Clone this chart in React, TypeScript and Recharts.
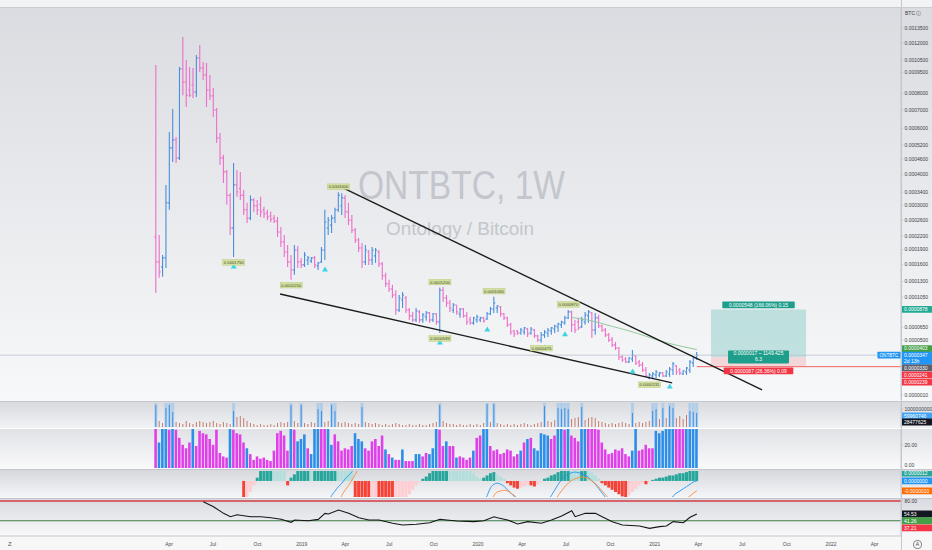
import React from "react";
import {
  ComposedChart,
  Bar,
  Line,
  XAxis,
  YAxis,
  ReferenceLine,
  ReferenceArea,
  ReferenceDot,
  Cell,
} from "recharts";

const FONT = "'Liberation Sans', Arial, sans-serif";
const UNIT = 1e-7; // all price arrays are in units of 0.0000001 BTC
const LOG_SHIFT = 0.0001; // price-axis transform: log10(price + shift)
const FIRST_WEEK = "2018-03-05";

// ---------------- weekly OHLC (ONTBTC, 1W) ----------------
const opens = [
  2180, 1652, 1557, 1730, 3073, 5070, 5430, 4644, 9770, 8800,
  8240, 8590, 8112, 10664, 9850, 9315, 8240, 7856, 6990, 5526,
  4644, 4098, 3300, 2390, 3640, 3522, 3300, 2870, 2646, 3160,
  2986, 3015, 2870, 2786, 2702, 2646, 2565, 2294, 2066, 1850,
  1652, 1500, 1890, 1652, 1595, 1690, 1671, 1730, 1576, 1652,
  1890, 2390, 2465, 2646, 2870, 2986, 3222, 2814, 2590, 2340,
  2110, 1934, 1652, 1850, 1690, 1770, 1850, 1614, 1398, 1262,
  1177, 1085, 870, 1010, 1040, 870, 792, 740, 844, 740,
  779, 831, 740, 818, 715, 1160, 1040, 968, 870, 940,
  818, 884, 792, 740, 703, 740, 740, 766, 753, 818,
  884, 898, 912, 818, 766, 679, 606, 606, 583, 594,
  629, 583, 617, 549, 504, 561, 583, 606, 629, 654,
  679, 703, 766, 845, 679, 715, 654, 715, 792, 831,
  617, 766, 666, 617, 561, 504, 451, 419, 329, 310,
  282, 310, 339, 282, 255, 209, 141, 158, 167, 167,
  184, 158, 175, 209, 245, 209, 175, 192, 209, 273,
  320,
];
const highs = [
  10090, 2225, 1790, 3640, 5814, 7051, 5574, 9930, 12583, 10490,
  9930, 9850, 10925, 11820, 10330, 10250, 9315, 8380, 7112, 5766,
  4770, 4170, 3368, 4443, 4170, 4098, 3470, 3073, 3300, 3218,
  3160, 3253, 2957, 2870, 2814, 2730, 2674, 2415, 2225, 2000,
  1790, 2000, 1978, 1730, 1850, 1770, 1750, 1770, 1652, 1956,
  2870, 2674, 2730, 2928, 3400, 3368, 3300, 3073, 2730, 2390,
  2156, 2044, 2000, 1890, 1956, 1934, 1890, 1652, 1449, 1330,
  1245, 1160, 1085, 1130, 1070, 898, 844, 898, 870, 831,
  857, 844, 831, 831, 1200, 1211, 1085, 1010, 968, 940,
  898, 898, 844, 779, 779, 805, 779, 779, 844, 912,
  1060, 940, 926, 831, 779, 703, 617, 617, 642, 654,
  642, 654, 629, 561, 594, 617, 642, 654, 679, 703,
  728, 792, 870, 860, 740, 766, 779, 844, 870, 844,
  831, 805, 679, 642, 583, 538, 483, 430, 349, 329,
  329, 398, 349, 300, 282, 236, 184, 192, 209, 192,
  192, 209, 236, 282, 255, 227, 209, 236, 300, 329,
  378,
];
const lows = [
  1115, 1364, 1381, 1538, 2870, 4482, 4443, 4560, 7890, 7173,
  7792, 7728, 7792, 9540, 8940, 7173, 7600, 6598, 5295, 4365,
  3702, 3015, 2225, 1750, 3253, 3160, 2730, 2515, 2590, 2814,
  2730, 2674, 2646, 2590, 2540, 2515, 2179, 1956, 1750, 1557,
  1330, 1415, 1538, 1538, 1557, 1595, 1633, 1538, 1500, 1633,
  1690, 2225, 2271, 2515, 2814, 2730, 2646, 2465, 2271, 2044,
  1850, 1538, 1595, 1595, 1595, 1633, 1557, 1330, 1211, 1130,
  1040, 805, 844, 898, 831, 740, 715, 715, 703, 703,
  728, 703, 715, 679, 583, 982, 912, 844, 831, 805,
  766, 766, 679, 679, 679, 703, 715, 703, 740, 805,
  831, 831, 779, 740, 654, 561, 538, 561, 561, 561,
  538, 561, 527, 483, 475, 527, 538, 561, 583, 594,
  642, 679, 753, 594, 583, 617, 642, 679, 703, 527,
  561, 642, 594, 538, 483, 430, 398, 300, 282, 273,
  273, 282, 255, 236, 192, 150, 131, 141, 141, 150,
  150, 150, 150, 167, 167, 167, 167, 167, 184, 236,
  300,
];
const closes = [
  1652, 1466, 1730, 3073, 5070, 5430, 4644, 9770, 8800, 7890,
  7890, 8112, 10664, 9850, 9315, 8240, 7856, 6990, 5526, 4644,
  4098, 3300, 2390, 3640, 3408, 3300, 2870, 2646, 3160, 2986,
  2870, 2814, 2758, 2674, 2618, 2565, 2294, 2066, 1850, 1652,
  1500, 1890, 1652, 1595, 1790, 1730, 1730, 1595, 1633, 1890,
  2540, 2590, 2646, 2870, 3300, 3222, 2814, 2590, 2340, 2110,
  1934, 1652, 1890, 1690, 1890, 1890, 1614, 1398, 1262, 1177,
  1085, 870, 1040, 1085, 870, 792, 740, 857, 740, 805,
  831, 740, 818, 715, 1160, 1040, 968, 898, 940, 844,
  884, 792, 715, 703, 766, 779, 766, 728, 818, 884,
  968, 926, 818, 766, 679, 594, 572, 583, 617, 642,
  572, 629, 549, 504, 561, 594, 617, 642, 666, 691,
  715, 766, 845, 679, 617, 642, 740, 805, 844, 617,
  766, 666, 617, 561, 504, 451, 419, 329, 300, 282,
  320, 349, 273, 255, 209, 158, 167, 175, 192, 184,
  158, 192, 218, 264, 192, 184, 201, 227, 282, 320,
  347,
];

// price axis ticks and axis badges (1e-7 BTC)
const priceTicks = [
  13500, 12000, 10500, 9500, 8000, 7000, 6000, 5200, 4600, 4000, 3400,
  3000, 2600, 2200, 1900, 1600, 1300, 1050, 650, 500, 10,
];
const axisBadgeValues = [878, 403, 347, 330, 241, 239];
const lastPrice = 347;
const countdownText = "2d 13h";
const symbolTag = "ONTBTC";

// moving average (bar index, price)
const maPoints = [
  [123, 770], [127, 745], [131, 705], [135, 660], [140, 606],
  [145, 545], [150, 485], [155, 440], [160, 403],
];
// trend lines: [bar index, price]
const upperTrend = [[54.7, 3572], [179.3, 46]];
const lowerTrend = [[36.7, 1100], [152.7, 101]];
// pivot labels: [bar, side, text]
const pivotLabels: [number, string, string][] = [
  [54, "high", "0.0003400"],
  [23, "low", "0.0001750"],
  [40, "low", "0.0001250"],
  [84, "high", "0.0001200"],
  [84, "low", "0.0000583"],
  [100, "high", "0.0001060"],
  [114, "low", "0.0000475"],
  [122, "high", "0.0000870"],
  [146, "low", "0.0000131"],
];
const signalBars = [23, 50, 84, 98, 115, 121, 141, 152];
// long position tool
const positionTool = { x1: 164.2, x2: 192.3, target: 878, entry: 330, stop: 241 };
const positionTexts = [
  "0.0000548 (166.06%) 0.15",
  "0.0000017 ~ 1149.425",
  "6.3",
  "0.0000087 (26.36%) 0.09",
];
const stopRay = { fromBar: 160, price: 239 };

// ---------------- lower panes ----------------
const volValues = [
  34, 22, 34, 34, 33, 34, 33, 26, 20, 17,
  22, 34, 19, 32, 30, 29, 25, 20, 33, 13,
  10, 9, 34, 33, 30, 29, 22, 17, 12, 7,
  10, 8, 9, 7, 6, 15, 30, 32, 28, 15,
  34, 33, 23, 25, 29, 17, 12, 34, 34, 34,
  34, 34, 20, 29, 23, 15, 17, 16, 19, 30,
  25, 23, 17, 15, 23, 25, 19, 28, 16, 12,
  9, 7, 7, 16, 6, 6, 6, 12, 12, 10,
  13, 12, 17, 34, 33, 19, 23, 19, 19, 9,
  10, 9, 7, 9, 15, 26, 28, 34, 34, 19,
  15, 16, 12, 13, 16, 15, 10, 12, 15, 22,
  25, 26, 17, 15, 30, 29, 28, 25, 28, 34,
  34, 33, 34, 28, 26, 23, 34, 34, 34, 34,
  34, 33, 22, 16, 12, 13, 16, 15, 17, 12,
  10, 15, 34, 15, 16, 20, 17, 17, 32, 30,
  32, 34, 34, 34, 34, 34, 34, 34, 34, 34,
  34,
];
const volColorCodes =
  "mbbbmbmmmm" + "mbmmmmmmmm" + "mmbmmmmbmm" + "mmmmmmmmmm" +
  "bmbbbmbbbm" + "mbbmmmmmmb" + "bbmmmmmmbm" + "bmmbmmmbbm" +
  "mbbbmmbmmb" + "mmmmbmmbbm" + "mmmmmmmmbm" + "bmbbbbbmmb" +
  "bmbmmmbbmm" + "mmmmmmmmmm" + "mbbmmmmmbb" + "bbbbmmmbbb" + "b";
const flowValues = [
  22, 6, 4, 19, 22, 15, 5, 4, 3, 6,
  4, 3, 5, 6, 5, 4, 5, 6, 4, 3,
  5, 4, 3, 16, 10, 11, 9, 6, 4, 3,
  2, 3, 2, 2, 3, 2, 4, 5, 4, 5,
  22, 6, 4, 22, 4, 3, 5, 4, 18, 16,
  5, 6, 22, 16, 5, 4, 5, 4, 3, 4,
  3, 20, 5, 4, 3, 4, 3, 2, 3, 2,
  3, 4, 3, 2, 2, 3, 2, 2, 3, 2,
  2, 3, 4, 5, 22, 6, 4, 3, 3, 2,
  3, 2, 2, 3, 2, 3, 2, 4, 23, 5,
  23, 4, 3, 2, 3, 2, 3, 2, 3, 4,
  3, 2, 3, 4, 5, 21, 6, 5, 7, 19,
  18, 19, 18, 8, 9, 10, 20, 7, 9, 10,
  9, 6, 5, 4, 3, 4, 3, 4, 5, 4,
  3, 14, 4, 5, 4, 5, 6, 16, 18, 8,
  19, 9, 21, 19, 9, 11, 8, 12, 16, 15,
  14,
];
const flowHighlight = 14;
const macdHist = [
  null, null, null, null, null, null, null, null, null, null,
  null, null, null, null, null, null, null, null, null, null,
  null, null, null, null, null, null, -20, -18, -10, -4,
  3, 12, 18, 22, 24, 22, 18, 14, 11, -4,
  3, 6, 10, 14, 18, 20, 19, 22, 25, 28,
  32, 35, 38, 40, 36, 30, 24, 16, 10, -16,
  -20, -24, -28, -30, -28, -25, -26, -30, -34, -38,
  -40, -36, -30, -24, -18, -12, -8, -4, -1, 2,
  4, 7, 10, 14, 18, 22, 24, 22, 20, 18,
  16, 14, 12, 10, 7, 4, 2, 3, 5, 7,
  8, 6, 4, 2, -2, -4, -6, -7, -6, -5,
  -3, -4, -5, -3, -1, 2, 3, 5, 6, 8,
  10, 12, 14, 12, 10, 9, 11, 12, 10, 8,
  5, 2, -2, -4, -6, -8, -10, -12, -14, -16,
  -13, -10, -7, -4, -2, -3, -1, 1, 2, 3,
  3, 4, 5, 5, 6, 7, 7, 8, 9, 10,
  12,
];
// MACD / signal line pieces that pass through the small pane: start bar + weekly values
const macdLineSegments = [
  { start: 51, values: [-20, -13, -9, -5, -2, 2, 5, 8.5, 14] },
  { start: 97, values: [-20, -13, -6, -3, -2, -3, -5, -8, -11, -14, -18] },
  { start: 116, values: [-18, -13, -8, -3, 1, 4, 6, 7.5, 8, 7.5, 6.5, 5, 3, 0, -3, -7, -11, -15] },
  { start: 152, values: [-18, -13.6, -11, -9, -7, -5, -3, -1, 0] },
];
const signalLineSegments = [
  { start: 54, values: [-20, -13, -8, -4, 1, 6, 12] },
  { start: 99, values: [-20, -13, -10, -9, -8.5, -9, -11, -13, -16] },
  { start: 118, values: [-18, -13, -9, -5, -2, 0.5, 2, 3, 3.5, 3, 2, 0, -2.5, -5.5, -9, -12.5, -16] },
  { start: 157, values: [-16, -13.5, -11, -9] },
];
const rsiPoints = [
  [14, 78.7], [17, 68.8], [20, 55.8], [22, 49.2], [24, 53.1], [28, 49.2],
  [31, 49], [34, 47.3], [37, 44.1], [40, 38.2], [41, 42.8], [45, 41.4],
  [48, 44], [50, 55.8], [51, 54.5], [54, 62.4], [57, 55.8], [60, 47.3],
  [63, 42.8], [66, 42.8], [70, 36.3], [73, 33], [77, 34.3], [81, 37.5],
  [84, 44.1], [86, 42.8], [89, 40.8], [94, 39.5], [97, 41.4], [100, 49.2],
  [101, 47.3], [104, 42.8], [107, 35], [110, 39.5], [114, 36.3], [117, 42.8],
  [120, 50.6], [123, 61], [124, 49.2], [127, 55.8], [130, 55.8], [132, 49.2],
  [135, 39.5], [138, 33], [143, 31], [146, 26.4], [149, 29.7], [151, 31],
  [153, 39.5], [156, 37.5], [158, 48], [160, 54.5],
];
const rsiLevels = [80, 41.26];
const rsiBadgeValues = [54.53, 41.26, 37.21];
const macdBadgeValues = [7.2, 0, -9];
const macdBadgeTexts = ["0.0000012", "0.0000000", "-0.0000010"];
const flowAxisTexts = ["1000000000", "59960746", "28477625"];
const flowAxisValues = [18, 11, 5];

const timeTicks: [string, string][] = [
  ["2018-04-01", "Apr"], ["2018-07-01", "Jul"], ["2018-10-01", "Oct"],
  ["2019-01-01", "2019"], ["2019-04-01", "Apr"], ["2019-07-01", "Jul"],
  ["2019-10-01", "Oct"], ["2020-01-01", "2020"], ["2020-04-01", "Apr"],
  ["2020-07-01", "Jul"], ["2020-10-01", "Oct"], ["2021-01-01", "2021"],
  ["2021-04-01", "Apr"], ["2021-07-01", "Jul"], ["2021-10-01", "Oct"],
  ["2022-01-01", "2022"], ["2022-04-01", "Apr"],
];

// ---------------- helpers ----------------
const X_DOMAIN: [number, number] = [-46.15, 220.4];
const P_DOMAIN: [number, number] = [-4.0121, -2.7755];
const PINK = "#ee6ec8";
const BLUE = "#4a8fdd";
const tf = (v: number) => Math.log10(v * UNIT + LOG_SHIFT);
const fmtP = (v: number) => (v * UNIT).toFixed(7);
const weekIndex = (d: string) =>
  (Date.parse(d) - Date.parse(FIRST_WEEK)) / (7 * 86400000);
const timeTickPos = timeTicks.map((t) => weekIndex(t[0]));

const maByBar = new Map(maPoints.map((p) => [p[0], p[1]]));
const rsiByBar = new Map(rsiPoints.map((p) => [p[0], p[1]]));
const segLookup = (segs: { start: number; values: number[] }[], i: number) => {
  for (const s of segs) {
    if (i >= s.start && i < s.start + s.values.length) return s.values[i - s.start];
  }
  return null;
};

const mainRows = opens.map((o, i) => ({
  i,
  range: [tf(lows[i]), tf(highs[i])],
  hiT: tf(highs[i]),
  oT: tf(o),
  cT: tf(closes[i]),
  up: closes[i] >= o,
  ma: maByBar.has(i) ? tf(maByBar.get(i) as number) : null,
}));

const subRows = opens.map((_, i) => ({
  i,
  vol: volValues[i],
  volUp: volColorCodes[i] === "b",
  flow: flowValues[i],
  shade: flowValues[i] >= flowHighlight ? 24 : null,
  hist: macdHist[i],
  macd: segLookup(macdLineSegments, i),
  signal: segLookup(signalLineSegments, i),
  rsi: rsiByBar.has(i) ? rsiByBar.get(i) : null,
}));

const histColor = (i: number) => {
  const v = macdHist[i] as number;
  const p = i > 0 ? (macdHist[i - 1] as number | null) : null;
  if (v >= 0) return p == null || v >= p ? "#26a69a" : "#b2dfdb";
  return p == null || v <= p ? "#f44336" : "#ffcdd2";
};

type Spec = {
  v: number;
  text: string;
  bg?: string;
  fg?: string;
  dy?: number;
  text2?: string;
  tag?: string;
};

const makeAxisTick = (specs: Spec[]) => (props: any) => {
  const { x, y, payload } = props;
  const s = specs.find((sp) => Math.abs(sp.v - payload.value) < 1e-7);
  if (!s) return null;
  const cy = y + (s.dy || 0);
  if (!s.bg) {
    return (
      <g>
        <line x1={x} x2={x + 2} y1={y} y2={y} stroke="#a3a7ae" strokeWidth={0.6} />
        <text x={x + 3.5} y={cy + 1.8} fontSize={5} fill="#3b3e44" fontFamily={FONT}>
          {s.text}
        </text>
      </g>
    );
  }
  const h = s.text2 ? 13 : 6.8;
  return (
    <g>
      {s.tag && (
        <g>
          <rect x={x - 23.5} y={y - 3.4} width={23} height={6.8} fill={s.bg} rx={0.6} />
          <text x={x - 12} y={y + 1.8} fontSize={4.6} fill="#fff" textAnchor="middle" fontFamily={FONT}>
            {s.tag}
          </text>
        </g>
      )}
      <rect x={x + 0.6} y={cy - 3.4} width={30.4} height={h} fill={s.bg} rx={0.6} />
      <text x={x + 3} y={cy + 1.8} fontSize={5} fill={s.fg || "#fff"} fontFamily={FONT}>
        {s.text}
      </text>
      {s.text2 && (
        <text x={x + 3} y={cy + 7.8} fontSize={5} fill={s.fg || "#fff"} fontFamily={FONT}>
          {s.text2}
        </text>
      )}
    </g>
  );
};

const MAIN_BADGE_STYLE = [
  { bg: "#22ab94", dy: 0 },
  { bg: "#43a047", dy: -1 },
  { bg: "#2196f3", dy: 0, text2: countdownText, tag: symbolTag },
  { bg: "#5d606b", dy: 11 },
  { bg: "#f23645", dy: 8.5 },
  { bg: "#f23645", dy: 15.5 },
];
const mainSpecs: Spec[] = [
  ...priceTicks.map((p) => ({ v: tf(p), text: fmtP(p) })),
  ...axisBadgeValues.map((b, k) => ({ v: tf(b), text: fmtP(b), ...MAIN_BADGE_STYLE[k] })),
];
const FLOW_STYLE = [{}, { bg: "#42a5f5" }, { bg: "#131722" }];
const flowSpecs: Spec[] = flowAxisValues.map((v, k) => ({ v, text: flowAxisTexts[k], ...FLOW_STYLE[k] }));
const VOL_STYLE = [{ dy: 0 }, { dy: -2.5 }];
const volSpecs: Spec[] = [20, 0].map((v, k) => ({ v, text: v.toFixed(2), ...VOL_STYLE[k] }));
const MACD_STYLE = [{ bg: "#26a69a" }, { bg: "#2196f3" }, { bg: "#ff6d00" }];
const macdSpecs: Spec[] = macdBadgeValues.map((v, k) => ({ v, text: macdBadgeTexts[k], ...MACD_STYLE[k] }));
const RSI_STYLE = [{ bg: "#131722" }, { bg: "#43a047" }, { bg: "#f23645", dy: 5 }];
const rsiSpecs: Spec[] = [
  { v: rsiLevels[0], text: rsiLevels[0].toFixed(2) },
  ...rsiBadgeValues.map((v, k) => ({ v, text: v.toFixed(2), ...RSI_STYLE[k] })),
];

const Candle = (props: any) => {
  const { x, y, width, height, payload } = props;
  if (x == null || !payload) return null;
  const cx = x + width / 2;
  const top = Math.min(y, y + height);
  const bot = Math.max(y, y + height);
  const span = payload.hiT - payload.range[0];
  const py = (t: number) => (span > 0 ? top + ((payload.hiT - t) / span) * (bot - top) : top);
  const col = payload.up ? BLUE : PINK;
  const yo = py(payload.oT);
  const yc = py(payload.cT);
  return (
    <g stroke={col} strokeWidth={1.1}>
      <line x1={cx} x2={cx} y1={top} y2={Math.max(bot, top + 1)} />
      <line x1={cx - 1.5} x2={cx} y1={yo} y2={yo} />
      <line x1={cx} x2={cx + 1.5} y1={yc} y2={yc} />
    </g>
  );
};

const PivotTag = ({ cx, cy, side, text }: any) => {
  const yc = side === "high" ? cy - 5.5 : cy + 5.5;
  return (
    <g>
      <rect x={cx - 11} y={yc - 2.8} width={22} height={5.6} fill="#d3e29e" stroke="#b4c474" strokeWidth={0.4} />
      <text x={cx} y={yc + 1.5} fontSize={4.2} textAnchor="middle" fill="#4a4d40" fontFamily={FONT}>
        {text}
      </text>
    </g>
  );
};

const Tri = ({ cx, cy }: any) => (
  <polygon
    points={`${cx},${cy + 6.5} ${cx - 3},${cy + 11.5} ${cx + 3},${cy + 11.5}`}
    fill="#3fd4e4"
  />
);

const PosBadge = ({ cx, cy, dy, text, text2, bg }: any) => {
  const w = text.length * 2.85 + 4;
  const h = text2 ? 13 : 6.8;
  const top = cy + dy - (text2 ? 6.5 : 3.4);
  return (
    <g>
      <rect x={cx - w / 2} y={top} width={w} height={h} fill={bg} rx={0.8} />
      <text x={cx} y={top + 5} fontSize={5} textAnchor="middle" fill="#fff" fontFamily={FONT}>
        {text}
      </text>
      {text2 && (
        <text x={cx} y={top + 11} fontSize={5} textAnchor="middle" fill="#fff" fontFamily={FONT}>
          {text2}
        </text>
      )}
    </g>
  );
};

const TimeTick = (props: any) => {
  const { x, y, payload } = props;
  const k = timeTickPos.findIndex((p) => Math.abs(p - payload.value) < 1e-6);
  if (k < 0) return null;
  return (
    <text x={x} y={y + 9.5} fontSize={5} textAnchor="middle" fill="#4a4d52" fontFamily={FONT}>
      {timeTicks[k][1]}
    </text>
  );
};

const MARGIN = { top: 0, right: 0, bottom: 0, left: 0 };
const axisLine = { stroke: "#c4c7cd", strokeWidth: 1 };

const abs = (top: number, h: number, extra: any = {}) => ({
  position: "absolute" as const,
  left: 0,
  top,
  width: 932,
  height: h,
  ...extra,
});

export default function App() {
  const posMid = (positionTool.x1 + positionTool.x2) / 2;
  return (
    <div
      style={{
        position: "absolute",
        left: 0,
        top: 0,
        width: 932,
        height: 550,
        overflow: "hidden",
        background: "#f4f5f7",
        fontFamily: FONT,
      }}
    >
      {/* pane backgrounds */}
      <div style={abs(0, 8, { background: "#f2f3f5" })} />
      <div style={abs(8, 393, { background: "linear-gradient(180deg,#dadce1 0%,#e8eaed 50%,#f7f8f9 100%)" })} />
      <div style={abs(402, 26, { background: "linear-gradient(180deg,#d8dade 0%,#f1f2f4 100%)" })} />
      <div style={abs(428, 41, { background: "linear-gradient(180deg,#dfe1e5 0%,#fafafb 100%)" })} />
      <div style={abs(470, 28, { background: "linear-gradient(180deg,#d6d8dd 0%,#f5f6f8 100%)" })} />
      <div style={abs(499, 37, { background: "linear-gradient(180deg,#d9dbe0 0%,#f8f8fa 100%)" })} />
      <div style={abs(536, 14, { background: "#f7f7f8" })} />

      {/* watermark */}
      <svg width={932} height={400} style={{ position: "absolute", left: 0, top: 0 }}>
        <text x={358} y={199} fontSize={41} fill="#c3c6cc" textLength={207} lengthAdjust="spacingAndGlyphs" fontFamily={FONT}>
          ONTBTC, 1W
        </text>
        <text x={386} y={235} fontSize={18} fill="#c3c6cc" textLength={148} lengthAdjust="spacingAndGlyphs" fontFamily={FONT}>
          Ontology / Bitcoin
        </text>
      </svg>

      {/* main price pane */}
      <div style={{ position: "absolute", left: 0, top: 8 }}>
        <ComposedChart width={932} height={392} data={mainRows} margin={MARGIN}>
          <XAxis dataKey="i" type="number" domain={X_DOMAIN} allowDataOverflow hide />
          <YAxis
            orientation="right"
            width={31}
            type="number"
            domain={P_DOMAIN}
            allowDataOverflow
            ticks={mainSpecs.map((s) => s.v)}
            interval={0}
            tick={makeAxisTick(mainSpecs)}
            tickLine={false}
            tickSize={0}
            tickMargin={0}
            axisLine={axisLine}
          />
          <ReferenceArea
            x1={positionTool.x1}
            x2={positionTool.x2}
            y1={tf(positionTool.entry)}
            y2={tf(positionTool.target)}
            fill="#26a69a"
            fillOpacity={0.25}
            stroke="none"
          />
          <ReferenceArea
            x1={positionTool.x1}
            x2={positionTool.x2}
            y1={tf(positionTool.stop)}
            y2={tf(positionTool.entry)}
            fill="#f23645"
            fillOpacity={0.16}
            stroke="none"
          />
          <ReferenceLine y={tf(lastPrice)} stroke="#b6c2d0" strokeWidth={0.8} />
          <ReferenceLine
            segment={[
              { x: stopRay.fromBar, y: tf(stopRay.price) },
              { x: X_DOMAIN[1], y: tf(stopRay.price) },
            ]}
            stroke="#f4645f"
            strokeWidth={1}
          />
          <Bar dataKey="range" barSize={3} isAnimationActive={false} shape={Candle} />
          <Line
            dataKey="ma"
            type="monotone"
            stroke="#93c9a0"
            strokeWidth={1}
            dot={false}
            connectNulls
            isAnimationActive={false}
          />
          <ReferenceLine
            segment={upperTrend.map((p) => ({ x: p[0], y: tf(p[1]) }))}
            stroke="#1c1c1c"
            strokeWidth={1.4}
          />
          <ReferenceLine
            segment={lowerTrend.map((p) => ({ x: p[0], y: tf(p[1]) }))}
            stroke="#1c1c1c"
            strokeWidth={1.4}
          />
          {signalBars.map((b) => (
            <ReferenceDot
              key={"t" + b}
              x={b}
              y={tf(lows[b])}
              r={0}
              ifOverflow="visible"
              shape={(p: any) => <Tri cx={p.cx} cy={p.cy} />}
            />
          ))}
          {pivotLabels.map(([b, side, text], k) => (
            <ReferenceDot
              key={"pl" + k}
              x={b}
              y={tf(side === "high" ? highs[b] : lows[b])}
              r={0}
              ifOverflow="visible"
              shape={(p: any) => <PivotTag cx={p.cx} cy={p.cy} side={side} text={text} />}
            />
          ))}
          <ReferenceDot
            x={posMid}
            y={tf(positionTool.target)}
            r={0}
            ifOverflow="visible"
            shape={(p: any) => <PosBadge cx={p.cx} cy={p.cy} dy={-4.5} text={positionTexts[0]} bg="#1f9e8c" />}
          />
          <ReferenceDot
            x={posMid}
            y={tf(positionTool.entry)}
            r={0}
            ifOverflow="visible"
            shape={(p: any) => (
              <PosBadge cx={p.cx} cy={p.cy} dy={0} text={positionTexts[1]} text2={positionTexts[2]} bg="#1f9e8c" />
            )}
          />
          <ReferenceDot
            x={posMid}
            y={tf(positionTool.stop)}
            r={0}
            ifOverflow="visible"
            shape={(p: any) => <PosBadge cx={p.cx} cy={p.cy} dy={4.5} text={positionTexts[3]} bg="#f23645" />}
          />
        </ComposedChart>
      </div>

      {/* flow pane */}
      <div style={{ position: "absolute", left: 0, top: 403 }}>
        <ComposedChart width={932} height={24} data={subRows} margin={MARGIN}>
          <XAxis xAxisId="a" dataKey="i" type="number" domain={X_DOMAIN} allowDataOverflow hide />
          <XAxis xAxisId="b" dataKey="i" type="number" domain={X_DOMAIN} allowDataOverflow hide />
          <YAxis
            orientation="right"
            width={31}
            type="number"
            domain={[0, 24]}
            allowDataOverflow
            ticks={flowSpecs.map((s) => s.v)}
            interval={0}
            tick={makeAxisTick(flowSpecs)}
            tickLine={false}
            tickSize={0}
            tickMargin={0}
            axisLine={axisLine}
          />
          <Bar xAxisId="b" dataKey="shade" barSize={3.4} fill="#8fc0ee" fillOpacity={0.55} isAnimationActive={false} />
          <Bar xAxisId="a" dataKey="flow" barSize={1} isAnimationActive={false}>
            {subRows.map((r) => (
              <Cell key={r.i} fill={r.flow >= flowHighlight ? "#3d8fe0" : "#c47a6c"} />
            ))}
          </Bar>
        </ComposedChart>
      </div>

      {/* volume-like pane */}
      <div style={{ position: "absolute", left: 0, top: 428 }}>
        <ComposedChart width={932} height={40} data={subRows} margin={MARGIN}>
          <XAxis dataKey="i" type="number" domain={X_DOMAIN} allowDataOverflow hide />
          <YAxis
            orientation="right"
            width={31}
            type="number"
            domain={[0, 34.5]}
            allowDataOverflow
            ticks={volSpecs.map((s) => s.v)}
            interval={0}
            tick={makeAxisTick(volSpecs)}
            tickLine={false}
            tickSize={0}
            tickMargin={0}
            axisLine={axisLine}
          />
          <Bar dataKey="vol" barSize={2.6} isAnimationActive={false}>
            {subRows.map((r) => (
              <Cell key={r.i} fill={r.volUp ? "#2b8ee8" : "#e040ea"} />
            ))}
          </Bar>
        </ComposedChart>
      </div>

      {/* MACD pane */}
      <div style={{ position: "absolute", left: 0, top: 471 }}>
        <ComposedChart width={932} height={26} data={subRows} margin={MARGIN}>
          <XAxis dataKey="i" type="number" domain={X_DOMAIN} allowDataOverflow hide />
          <YAxis
            orientation="right"
            width={31}
            type="number"
            domain={[-14.5, 9]}
            allowDataOverflow
            ticks={macdSpecs.map((s) => s.v)}
            interval={0}
            tick={makeAxisTick(macdSpecs)}
            tickLine={false}
            tickSize={0}
            tickMargin={0}
            axisLine={axisLine}
          />
          <Bar dataKey="hist" barSize={3} isAnimationActive={false}>
            {subRows.map((r) => (
              <Cell key={r.i} fill={r.hist == null ? "none" : histColor(r.i)} />
            ))}
          </Bar>
          <Line dataKey="macd" type="monotone" stroke="#2196f3" strokeWidth={0.9} dot={false} isAnimationActive={false} />
          <Line dataKey="signal" type="monotone" stroke="#ff8a3d" strokeWidth={0.9} dot={false} isAnimationActive={false} />
        </ComposedChart>
      </div>

      {/* RSI pane + time axis */}
      <div style={{ position: "absolute", left: 0, top: 499 }}>
        <ComposedChart width={932} height={51} data={subRows} margin={MARGIN}>
          <XAxis
            dataKey="i"
            type="number"
            domain={X_DOMAIN}
            allowDataOverflow
            ticks={timeTickPos}
            interval={0}
            tick={TimeTick}
            tickLine={false}
            tickSize={0}
            tickMargin={0}
            height={14}
            axisLine={axisLine}
          />
          <YAxis
            orientation="right"
            width={31}
            type="number"
            domain={[11.4, 83.9]}
            allowDataOverflow
            ticks={rsiSpecs.map((s) => s.v)}
            interval={0}
            tick={makeAxisTick(rsiSpecs)}
            tickLine={false}
            tickSize={0}
            tickMargin={0}
            axisLine={axisLine}
          />
          <ReferenceLine y={rsiLevels[0]} stroke="#d6656b" strokeWidth={2} />
          <ReferenceLine y={rsiLevels[1]} stroke="#3f7d45" strokeWidth={1.2} />
          <Line
            dataKey="rsi"
            stroke="#151515"
            strokeWidth={1.1}
            dot={false}
            connectNulls
            isAnimationActive={false}
          />
        </ComposedChart>
      </div>

      {/* separators */}
      <div style={abs(7, 1, { background: "#c9ccd2" })} />
      <div style={abs(401, 1, { background: "#c4c7cd" })} />
      <div style={abs(427.5, 1, { background: "#ffffff" })} />
      <div style={abs(469, 1, { background: "#c4c7cd" })} />
      <div style={abs(498, 1, { background: "#c4c7cd" })} />
      <div style={{ position: "absolute", left: 901, top: 0, width: 1, height: 550, background: "#c4c7cd" }} />

      {/* corner texts */}
      <div style={{ position: "absolute", left: 905, top: 10, fontSize: 5, color: "#3b3e44", lineHeight: "7px" }}>
        BTC ⓘ
      </div>
      <div style={{ position: "absolute", left: 8, top: 540, fontSize: 6, color: "#555", lineHeight: "8px" }}>Z</div>
      <div
        style={{
          position: "absolute",
          left: 913,
          top: 540,
          width: 7,
          height: 7,
          borderRadius: 4,
          border: "0.6px solid #888",
          fontSize: 5,
          color: "#444",
          lineHeight: "7px",
          textAlign: "center",
        }}
      >
        A
      </div>
    </div>
  );
}
